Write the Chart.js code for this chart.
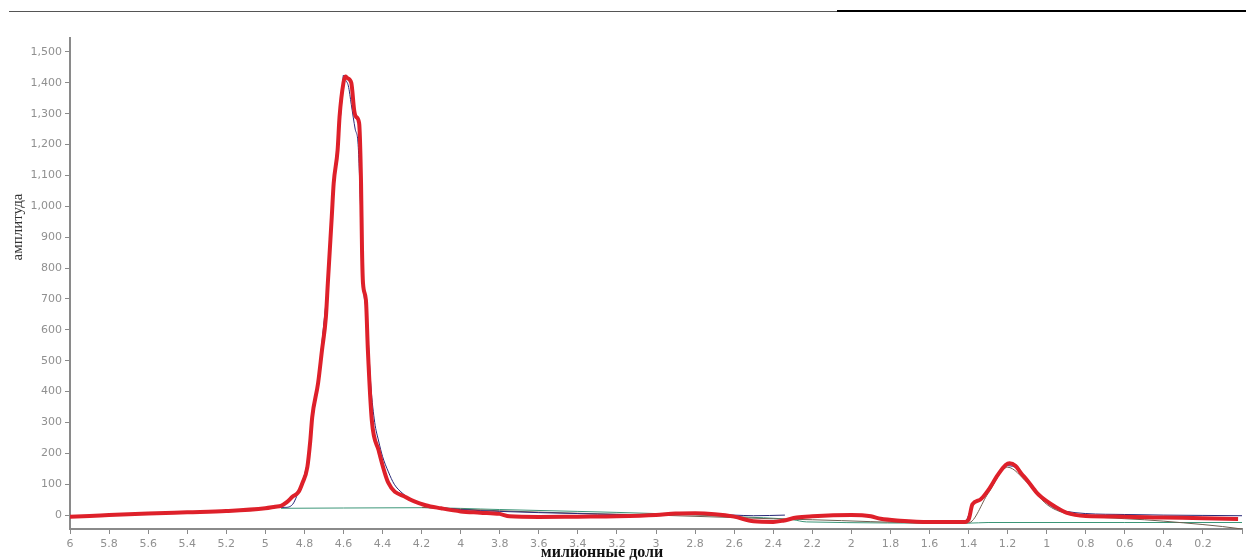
<!DOCTYPE html>
<html>
<head>
<meta charset="utf-8">
<script src="https://cdn.jsdelivr.net/npm/chart.js@4.4.1/dist/chart.umd.min.js"></script>
<style>
  body { margin: 0; background: #fff; }
  #wrap { width: 1246px; height: 560px; position: relative; }
</style>
</head>
<body>
<div id="wrap"><canvas id="grafico"></canvas></div>
<script>
// ejes
const xTitulo = 'милионные доли'
const yTitulo = 'амплитуда'
const yTicks = [0, 100, 200, 300, 400, 500, 600, 700, 800, 900, 1000, 1100, 1200, 1300, 1400, 1500]

// curva roja (ajuste)
const ajustePpm = [6.0, 5.9, 5.8, 5.6, 5.4, 5.2, 5.0, 4.95, 4.92, 4.89, 4.86, 4.83, 4.81, 4.785, 4.77, 4.76,
  4.73, 4.71, 4.69, 4.68, 4.67, 4.66, 4.65, 4.63, 4.62, 4.60, 4.59, 4.58, 4.56, 4.545, 4.536, 4.52,
  4.51, 4.505, 4.5, 4.485, 4.475, 4.455, 4.42, 4.37, 4.28, 4.18, 4.1, 4.0, 3.9, 3.8, 3.75, 3.6, 3.4,
  3.2, 3.0, 2.9, 2.8, 2.7, 2.6, 2.5, 2.4, 2.35, 2.28, 2.2, 2.0, 1.9, 1.85, 1.75, 1.6, 1.42, 1.4,
  1.38, 1.34, 1.3, 1.25, 1.21, 1.19, 1.16, 1.13, 1.1, 1.05, 1.0, 0.95, 0.9, 0.8, 0.6, 0.4, 0.2, 0.02]
const ajusteAmp = [-5, -3, 0, 5, 9, 13, 22, 27, 30, 42, 60, 75, 104, 155, 240, 317,
  427, 534, 641, 751, 858, 965, 1075, 1182, 1290, 1400, 1420, 1415, 1400, 1310, 1290, 1270,
  1075, 858, 751, 696, 534, 308, 210, 104, 58, 32, 22, 12, 8, 4, -4, -6, -5,
  -4, 0, 5, 6, 3, -5, -20, -22, -18, -8, -4, 0, -4, -12, -18, -22, -22, -15,
  35, 50, 80, 130, 162, 168, 160, 135, 113, 72, 45, 25, 8, -3, -5, -8, -10, -13]

// curva azul (datos)
const datosPpm = [6.0, 5.6, 5.4, 5.0, 4.92, 4.9, 4.86, 4.84, 4.82, 4.8, 4.78, 4.76, 4.73, 4.71, 4.68,
  4.665, 4.65, 4.63, 4.61, 4.6, 4.59, 4.575, 4.56, 4.54, 4.525, 4.51, 4.5, 4.48, 4.46, 4.44, 4.42,
  4.4, 4.37, 4.34, 4.3, 4.26, 4.22, 4.18, 4.1, 4.0, 3.8, 3.6, 3.4, 3.2, 3.0, 2.8, 2.6, 2.5, 2.34,
  2.3, 2.2, 2.0, 1.9, 1.85, 1.6, 1.42, 1.38, 1.3, 1.2, 1.15, 1.1, 1.0, 0.95, 0.9, 0.8, 0.6, 0.4, 0.2, 0.0]
const datosAmp = [-5, 4, 8, 22, 25, 25, 35, 60, 95, 130, 190, 300, 430, 560, 760,
  900, 1080, 1200, 1330, 1425, 1410, 1390, 1330, 1250, 1200, 950, 760, 640, 420, 300, 240,
  190, 140, 100, 72, 52, 38, 30, 24, 18, 12, 8, 5, 2, 2, 4, 0, -2, 0,
  null, -4, 0, -4, -12, -22, -22, 30, 75, 160, 150, 110, 40, 20, 12, 5, 2, 0, -1, -2]

// linea base verde
const basePpm = [4.92, 4.6, 4.2, 3.8, 3.4, 3.0, 2.6, 2.3, 2.23, 1.4, 1.3, 0.6, 0.0]
const baseAmp = [22, 23, 24, 18, 12, 5, -5, -15, -22, -26, -24, -24, -24]

// componente marron
const compPpm = [4.2, 3.8, 3.4, 3.0, 2.6, 2.4, 2.2, 1.6, 1.4, 1.3, 1.2, 1.1, 1.0, 0.9, 0.7, 0.5, 0.3, 0.1, 0.0]
const compAmp = [25, 14, 6, 0, -8, -12, -15, -25, -25, 70, 155, 105, 35, 5, -8, -15, -25, -37, -45]

function puntos(xs, ys) {
    return xs.map(function (x, i) {
        return { x: x, y: ys[i] }
    })
}

// dibuja la linea superior y los titulos de los ejes
const decorado = {
    id: 'decorado',
    afterDraw(chart) {
        const ctx = chart.ctx
        ctx.save()
        ctx.strokeStyle = '#555'
        ctx.lineWidth = 1
        ctx.beginPath()
        ctx.moveTo(9, 11.5)
        ctx.lineTo(837, 11.5)
        ctx.stroke()
        ctx.strokeStyle = '#000'
        ctx.lineWidth = 2
        ctx.beginPath()
        ctx.moveTo(837, 11)
        ctx.lineTo(1246, 11)
        ctx.stroke()

        ctx.fillStyle = '#111'
        ctx.font = 'bold 16px "Liberation Serif"'
        ctx.textAlign = 'center'
        ctx.textBaseline = 'middle'
        ctx.fillText(xTitulo, 602, 553)

        ctx.translate(18, 227)
        ctx.rotate(-Math.PI / 2)
        ctx.fillStyle = '#333'
        ctx.font = '15px "Liberation Serif"'
        ctx.fillText(yTitulo, 0, 0)
        ctx.restore()
    }
}

const canvas = document.getElementById('grafico')
const ctx = canvas.getContext('2d')

const linea = { pointRadius: 0, fill: false, cubicInterpolationMode: 'monotone', spanGaps: false }

let chart = new Chart(ctx, {
    type: 'line',
    data: {
        datasets: [
            Object.assign({ label: 'ajuste', data: puntos(ajustePpm, ajusteAmp), borderColor: 'rgb(222, 32, 42)', borderWidth: 4, order: 0 }, linea),
            Object.assign({ label: 'datos', data: puntos(datosPpm, datosAmp), borderColor: 'rgb(40, 40, 120)', borderWidth: 1, order: 1 }, linea),
            Object.assign({ label: 'componente', data: puntos(compPpm, compAmp), borderColor: 'rgb(110, 95, 80)', borderWidth: 1, order: 2 }, linea),
            Object.assign({ label: 'base', data: puntos(basePpm, baseAmp), borderColor: 'rgb(60, 150, 120)', borderWidth: 1, order: 3 }, linea)
        ]
    },
    options: {
        responsive: true,
        maintainAspectRatio: false,
        animation: false,
        layout: { padding: { top: 38, right: 0, left: 0, bottom: 0 } },
        plugins: { legend: { display: false }, tooltip: { enabled: false } },
        scales: {
            x: {
                type: 'linear',
                reverse: true,
                min: 0,
                max: 6,
                afterFit: function (scale) { scale.height = 31 },
                border: { color: '#8a8a8a', width: 2 },
                grid: { drawOnChartArea: false, drawTicks: true, tickLength: 5, color: '#8a8a8a' },
                ticks: {
                    stepSize: 0.2,
                    padding: 4,
                    maxRotation: 0,
                    autoSkip: false,
                    color: '#909090',
                    font: { family: '"DejaVu Sans"', size: 11 },
                    callback: function (v) { return v === 0 ? '' : String(+v.toFixed(1)) }
                }
            },
            y: {
                min: -45,
                max: 1545,
                afterFit: function (scale) { scale.width = 70 },
                afterBuildTicks: function (scale) {
                    scale.ticks = yTicks.map(function (v) { return { value: v } })
                },
                border: { color: '#8a8a8a', width: 2 },
                grid: { drawOnChartArea: false, drawTicks: true, tickLength: 5, color: '#8a8a8a' },
                ticks: {
                    padding: 3,
                    color: '#909090',
                    font: { family: '"DejaVu Sans"', size: 11 },
                    callback: function (v) { return v.toLocaleString('en-US') }
                }
            }
        }
    },
    plugins: [decorado]
})
</script>
</body>
</html>
